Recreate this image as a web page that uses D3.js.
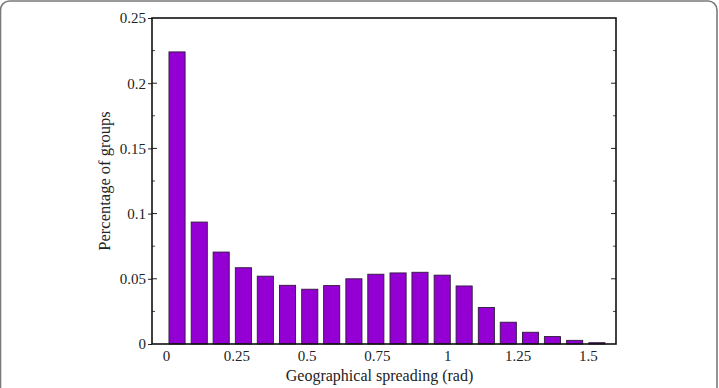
<!DOCTYPE html>
<html>
<head>
<meta charset="utf-8">
<script src="https://cdn.jsdelivr.net/npm/d3@7"></script>
<style>
  body { margin: 0; background: #fff; }
  svg { display: block; }
</style>
</head>
<body>
<svg id="histChart" width="719" height="388"></svg>
<script>
// bin centres (rad)
var binCenters = [0.039, 0.118, 0.196, 0.275, 0.353, 0.432, 0.511, 0.589, 0.668, 0.746,
                  0.825, 0.903, 0.982, 1.060, 1.139, 1.217, 1.296, 1.374, 1.453, 1.532];
var binWidth = 0.0785;
// share of groups in each bin
var shares = [0.224, 0.0935, 0.0705, 0.0585, 0.052, 0.045, 0.042, 0.0448, 0.050, 0.0535,
              0.0545, 0.055, 0.0528, 0.0445, 0.028, 0.0167, 0.009, 0.0057, 0.0028, 0.001];
var xTicks = [0, 0.25, 0.5, 0.75, 1, 1.25, 1.5];
var yTicks = [0, 0.05, 0.1, 0.15, 0.2, 0.25];
var yMinor = [0.025, 0.075, 0.125, 0.175, 0.225];

var serif = "'Liberation Serif', 'Times New Roman', serif";

var svg = d3.select("svg#histChart"),
    margin = {top: 18, right: 103, bottom: 44, left: 152},
    width = +svg.attr("width") - margin.left - margin.right,
    height = +svg.attr("height") - margin.top - margin.bottom;

// rounded outer border of the figure
svg.append("rect")
    .attr("x", 0.5).attr("y", 1)
    .attr("width", 716.5).attr("height", 420)
    .attr("rx", 9)
    .attr("fill", "none")
    .attr("stroke", "#7a7a7a")
    .attr("stroke-width", 1.6);

var g = svg.append("g").attr("transform", "translate(" + margin.left + "," + margin.top + ")");

var x = d3.scaleLinear().domain([-0.05, 1.6]).range([0, width]);
var y = d3.scaleLinear().domain([0, 0.25]).range([height, 0]);

var data = binCenters.map(function(c, i) { return {c: c, v: shares[i]}; });

// bars
g.selectAll("rect.bar")
  .data(data)
  .enter().append("rect")
    .attr("class", "bar")
    .attr("x", function(d) { return x(d.c - binWidth * 0.365); })
    .attr("width", function(d) { return x(d.c + binWidth * 0.365) - x(d.c - binWidth * 0.365); })
    .attr("y", function(d) { return y(d.v); })
    .attr("height", function(d) { return y(0) - y(d.v); })
    .attr("fill", "#9400d3")
    .attr("stroke", "#2e1a3a")
    .attr("stroke-width", 0.9);

// left axis with labels, outward major ticks
g.append("g")
    .attr("class", "axis axis--y")
    .call(d3.axisLeft(y).tickValues(yTicks).tickSize(4).tickPadding(2)
      .tickFormat(function(d) { return String(+d.toFixed(2)); }))
    .attr("font-family", serif)
    .attr("font-size", 15)
    .call(function(a) {
      a.select(".domain").remove();
      a.selectAll("line").attr("stroke", "#222");
      a.selectAll("text").attr("fill", "#222");
    });

// inward ticks on left and right sides
function inwardTicks(xPos, dir) {
  g.selectAll(null).data(yTicks.slice(1, -1)).enter().append("line")
      .attr("x1", xPos).attr("x2", xPos + dir * 5)
      .attr("y1", function(d) { return y(d); }).attr("y2", function(d) { return y(d); })
      .attr("stroke", "#222");
  g.selectAll(null).data(yMinor).enter().append("line")
      .attr("x1", xPos).attr("x2", xPos + dir * 3)
      .attr("y1", function(d) { return y(d); }).attr("y2", function(d) { return y(d); })
      .attr("stroke", "#444");
}
inwardTicks(0, 1);
inwardTicks(width, -1);

// bottom labels (no tick marks)
g.append("g")
    .attr("class", "axis axis--x")
    .attr("transform", "translate(0," + height + ")")
    .call(d3.axisBottom(x).tickValues(xTicks).tickSize(0).tickPadding(6)
      .tickFormat(function(d) { return String(d); }))
    .attr("font-family", serif)
    .attr("font-size", 15)
    .call(function(a) {
      a.select(".domain").remove();
      a.selectAll("text").attr("fill", "#222");
    });

// plot frame
g.append("rect")
    .attr("width", width).attr("height", height)
    .attr("fill", "none")
    .attr("stroke", "#111")
    .attr("stroke-width", 1.6);

// axis titles
svg.append("text")
    .attr("x", 379.5)
    .attr("y", 381)
    .attr("text-anchor", "middle")
    .attr("font-family", serif)
    .attr("font-size", 16)
    .attr("fill", "#222")
    .text("Geographical spreading (rad)");

svg.append("text")
    .attr("transform", "translate(110," + (margin.top + height / 2) + ") rotate(-90)")
    .attr("text-anchor", "middle")
    .attr("font-family", serif)
    .attr("font-size", 16.5)
    .attr("fill", "#222")
    .text("Percentage of groups");
</script>
</body>
</html>
